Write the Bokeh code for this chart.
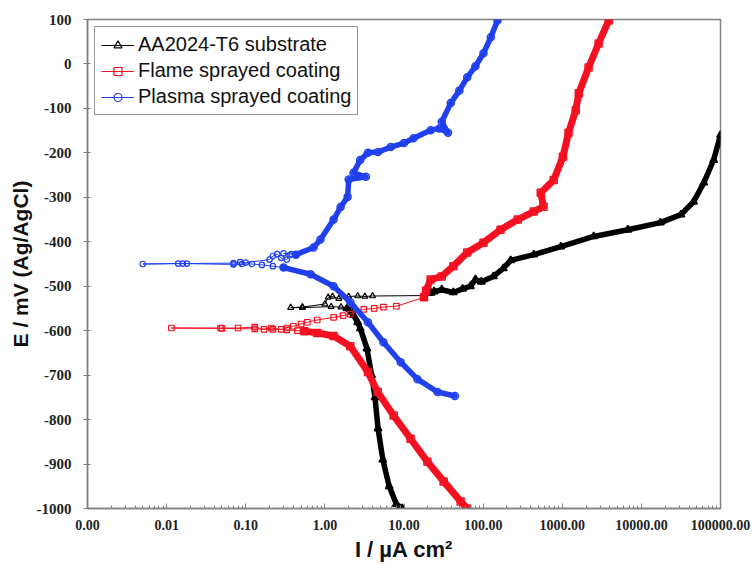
from bokeh.plotting import figure
from bokeh.models import FixedTicker, Legend, LegendItem
from bokeh.embed import file_html
from bokeh.resources import INLINE

# ---------------- data (I in uA/cm2, E in mV vs Ag/AgCl) ----------------
x_ticks = [0.001, 0.01, 0.1, 1, 10, 100, 1000, 10000, 100000]
x_tick_labels = ["0.00", "0.01", "0.10", "1.00", "10.00", "100.00",
                 "1000.00", "10000.00", "100000.00"]
y_ticks = [-1000, -900, -800, -700, -600, -500, -400, -300, -200, -100, 0, 100]
y_tick_labels = ["-1000", "-900", "-800", "-700", "-600", "-500", "-400",
                 "-300", "-200", "-100", "0", "100"]

series_names = ["AA2024-T6 substrate", "Flame sprayed coating", "Plasma sprayed coating"]

# AA2024-T6 substrate
sub_cath_I = [9.5, 8.0, 6.5, 5.4, 4.7, 4.3, 3.9, 3.4, 2.8, 2.6, 2.3, 1.9]
sub_cath_E = [-1000, -990, -950, -890, -820, -750, -700, -640, -595, -581, -565, -550]
sub_ecorr_I = [1.9, 2.4, 1.6, 1.2, 0.52, 0.37, 0.52, 1.0, 1.1, 1.25, 1.5, 2.0,
               2.6, 3.2, 4.0, 18.0, 22.0]
sub_ecorr_E = [-550, -548, -547, -546, -548, -548, -547, -540, -525, -523, -528,
               -523, -522, -523, -522, -521, -515]
sub_anod_I = [22, 24, 30, 42, 55, 69, 80, 95, 135, 180, 223, 437, 960, 2500, 6760,
              17400, 31600, 45700, 61600, 81900, 100000]
sub_anod_E = [-515, -512, -508, -514, -506, -500, -485, -490, -478, -460, -442,
              -429, -411, -388, -373, -357, -339, -310, -267, -216, -160]

# Flame sprayed coating
fla_cath_I = [63, 52, 31.7, 19.8, 12.1, 7.4, 4.65, 3.5, 2.1, 1.29, 0.8, 0.55]
fla_cath_E = [-1000, -984, -939, -895, -843, -791, -738, -693, -635, -612, -605, -601]
fla_ecorr_I = [0.55, 0.45, 0.33, 0.22, 0.13, 0.05, 0.0115, 0.048, 0.08, 0.13,
               0.17, 0.21, 0.28, 0.33, 0.4, 0.5, 0.6, 0.8, 1.29, 1.7, 2.1, 3.1,
               4.2, 5.5, 8.0, 17.9]
fla_ecorr_E = [-601, -600, -598, -597, -596, -595, -594, -594, -594, -592,
               -597, -594, -597, -594, -590, -585, -581, -576, -570, -566, -563,
               -552, -550, -547, -545, -525]
fla_anod_I = [17.9, 19.0, 21.7, 30, 42, 63, 101, 166, 274, 437, 580, 535, 780,
              1020, 1200, 1480, 1620, 2150, 2880, 3870]
fla_anod_E = [-525, -510, -485, -478, -455, -424, -402, -373, -350, -332, -321,
              -290, -261, -209, -155, -104, -66, -8, 46, 98]

# Plasma sprayed coating
pla_cath_I = [44, 26.5, 14.8, 9.1, 5.5, 3.5, 2.1, 1.29, 0.66, 0.30]
pla_cath_E = [-747, -738, -709, -671, -626, -581, -536, -500, -473, -458]
pla_ecorr_I = [0.30, 0.22, 0.16, 0.12, 0.09, 0.07, 0.016, 0.005, 0.014, 0.018,
               0.07, 0.085, 0.1, 0.2, 0.22, 0.25, 0.28, 0.33, 0.36, 0.3, 0.38, 0.43]
pla_ecorr_E = [-458, -455, -452, -450, -450, -451, -449, -450, -449, -449,
               -448, -446, -447, -440, -432, -428, -436, -440, -430, -426, -428, -429]
pla_anod_I = [0.43, 0.72, 0.88, 1.29, 1.58, 1.94, 2.0, 3.3, 2.3, 2.8, 3.5, 4.7,
              6.8, 10, 13.2, 21.7, 28, 36, 30, 39, 50, 63, 80, 101, 125, 152]
pla_anod_E = [-429, -413, -395, -350, -322, -299, -260, -254, -245, -216, -200,
              -198, -187, -178, -167, -149, -145, -155, -130, -88, -60, -30, -5,
              24, 60, 98]

# ---------------- figure ----------------
p = figure(width=755, height=564, x_axis_type="log",
           x_range=(0.001, 100000), y_range=(-1000, 100),
           output_backend="svg", toolbar_location=None,
           min_border_left=87, min_border_right=35, min_border_top=19,
           min_border_bottom=54)
p.background_fill_color = "white"
p.border_fill_color = "white"
p.xgrid.visible = False
p.ygrid.visible = False
p.outline_line_color = "#808080"
p.outline_line_width = 1.5

tick_font = "Liberation Serif"
p.xaxis.ticker = FixedTicker(ticks=x_ticks,
                             minor_ticks=[m * d for d in x_ticks[:-1] for m in (2, 3, 4, 5, 6, 7, 8, 9)])
p.xaxis.major_label_overrides = dict(zip(x_ticks, x_tick_labels))
p.yaxis.ticker = FixedTicker(ticks=y_ticks)
p.yaxis.major_label_overrides = dict(zip(y_ticks, y_tick_labels))

for ax in (p.xaxis, p.yaxis):
    ax.axis_line_color = "#808080"
    ax.axis_line_width = 1.5
    ax.major_tick_line_color = "#808080"
    ax.minor_tick_line_color = "#808080"
    ax.major_label_text_font = tick_font
    ax.major_label_text_font_style = "bold"
    ax.major_label_text_color = "#222222"
    ax.axis_label_text_font = "Liberation Sans"
    ax.axis_label_text_font_style = "bold"
    ax.axis_label_text_color = "#111111"

p.xaxis.major_label_text_font_size = "14px"
p.yaxis.major_label_text_font_size = "15px"

p.xaxis.major_tick_in = 5
p.xaxis.major_tick_out = 0
p.xaxis.minor_tick_in = 3
p.xaxis.minor_tick_out = 0
p.xaxis.major_label_standoff = 11
p.xaxis.axis_label = "I / µA cm²"
p.xaxis.axis_label_text_font_size = "22px"
p.xaxis.axis_label_standoff = 4

p.yaxis.major_tick_in = 3
p.yaxis.major_tick_out = 4
p.yaxis.minor_tick_line_color = None
p.yaxis.major_label_standoff = 12
p.yaxis.axis_label = "E / mV (Ag/AgCl)"
p.yaxis.axis_label_text_font_size = "21px"
p.yaxis.axis_label_standoff = 2

series = [
    ("#000000", "triangle", 6, 5.5, sub_cath_I, sub_cath_E, sub_ecorr_I, sub_ecorr_E, sub_anod_I, sub_anod_E),
    ("#f41020", "square", 5.5, 7, fla_cath_I, fla_cath_E, fla_ecorr_I, fla_ecorr_E, fla_anod_I, fla_anod_E),
    ("#2040ee", "circle", 5.5, 5.5, pla_cath_I, pla_cath_E, pla_ecorr_I, pla_ecorr_E, pla_anod_I, pla_anod_E),
]

items = []
for name, (col, mk, ms, lw, cI, cE, eI, eE, aI, aE) in zip(series_names, series):
    for I, E in ((cI, cE), (aI, aE)):
        p.line(I, E, line_color=col, line_width=lw, line_join="round", line_cap="round")
        p.scatter(I, E, marker=mk, size=ms + 1.5, line_color=col, line_width=1.5, fill_color=None)
    thin = p.line(eI, eE, line_color=col, line_width=1)
    pts = p.scatter(eI, eE, marker=mk, size=ms, line_color=col, line_width=1.2, fill_color=None)
    items.append(LegendItem(label=name, renderers=[thin, pts]))

legend = Legend(items=items, location="top_left", margin=7,
                label_text_font="Liberation Sans", label_text_font_size="20px",
                label_text_color="#111111",
                glyph_width=33, glyph_height=20, label_height=20, label_standoff=4,
                spacing=3, padding=6,
                border_line_color="#333333", border_line_width=1.5,
                background_fill_color="white", background_fill_alpha=1.0)
p.add_layout(legend)

open("out.html", "w").write(file_html(p, INLINE))
